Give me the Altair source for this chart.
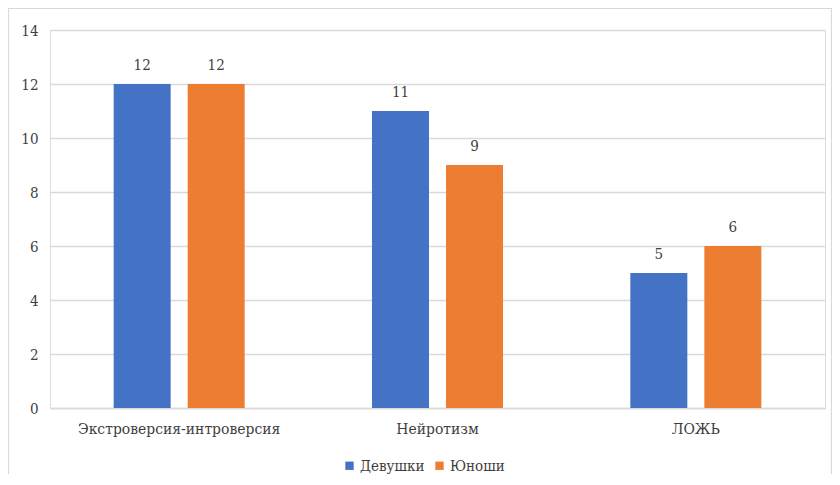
import altair as alt
import pandas as pd

categories = ["Экстроверсия-интроверсия", "Нейротизм", "ЛОЖЬ"]
series = ["Девушки", "Юноши"]
girls = [12, 11, 5]
boys = [12, 9, 6]
colors = ["#4472c4", "#ed7d31"]

rows = []
for i, c in enumerate(categories):
    rows.append({"cat": c, "group": series[0], "value": girls[i]})
    rows.append({"cat": c, "group": series[1], "value": boys[i]})
df = pd.DataFrame(rows)

W, H = 775, 378
FONT = "DejaVu Serif Condensed, DejaVu Serif"
FS = 15
TXT = "#404040"

x = alt.X("cat:N", sort=categories, title=None,
          scale=alt.Scale(paddingInner=0, paddingOuter=0),
          axis=alt.Axis(labelAngle=0, labelFont=FONT, labelFontSize=15.5, labelColor=TXT,
                        labelPadding=13, labelLimit=0, ticks=False, domainColor="#d9d9d9",
                        domainWidth=1.5, grid=False))
xo = alt.XOffset("group:N", sort=series,
                 scale=alt.Scale(paddingInner=0.23, paddingOuter=0.86))
y = alt.Y("value:Q", title=None,
          scale=alt.Scale(domain=[0, 14], nice=False),
          axis=alt.Axis(values=list(range(0, 15, 2)), labelFont=FONT, labelFontSize=FS,
                        labelColor=TXT, labelPadding=12, ticks=False, domain=False,
                        gridColor="#d9d9d9", gridWidth=1.5))
color = alt.Color("group:N", sort=series,
                  scale=alt.Scale(domain=series, range=colors),
                  legend=alt.Legend(title=None, orient="none", direction="horizontal",
                                    legendX=292, legendY=50 + H,
                                    symbolType="square", symbolSize=70, symbolStrokeWidth=0,
                                    labelFont=FONT, labelFontSize=15, labelColor=TXT,
                                    labelOffset=3, columnPadding=7))

base = alt.Chart(df)
bars = base.mark_bar().encode(x=x, xOffset=xo, y=y, color=color)
labels = base.mark_text(baseline="bottom", dy=-11, font=FONT, fontSize=FS, color=TXT).encode(
    x=alt.X("cat:N", sort=categories), xOffset=alt.XOffset("group:N", sort=series),
    y="value:Q", text="value:Q")

border = alt.Chart(pd.DataFrame({"a": [0]})).mark_rect(
    fill=None, stroke="#d9d9d9", strokeWidth=1.2, clip=False).encode(
    x=alt.value(-41.5), x2=alt.value(W + 6.5), y=alt.value(-21.5), y2=alt.value(H + 80))

chart = alt.layer(border, bars, labels).properties(
    width=W, height=H,
    autosize=alt.AutoSizeParams(type="none"),
    padding={"left": 42, "top": 22, "right": 7, "bottom": 66},
).configure_view(stroke=None).configure(background="white")

chart.save("out.html", embed_options={"renderer": "svg", "actions": False})
